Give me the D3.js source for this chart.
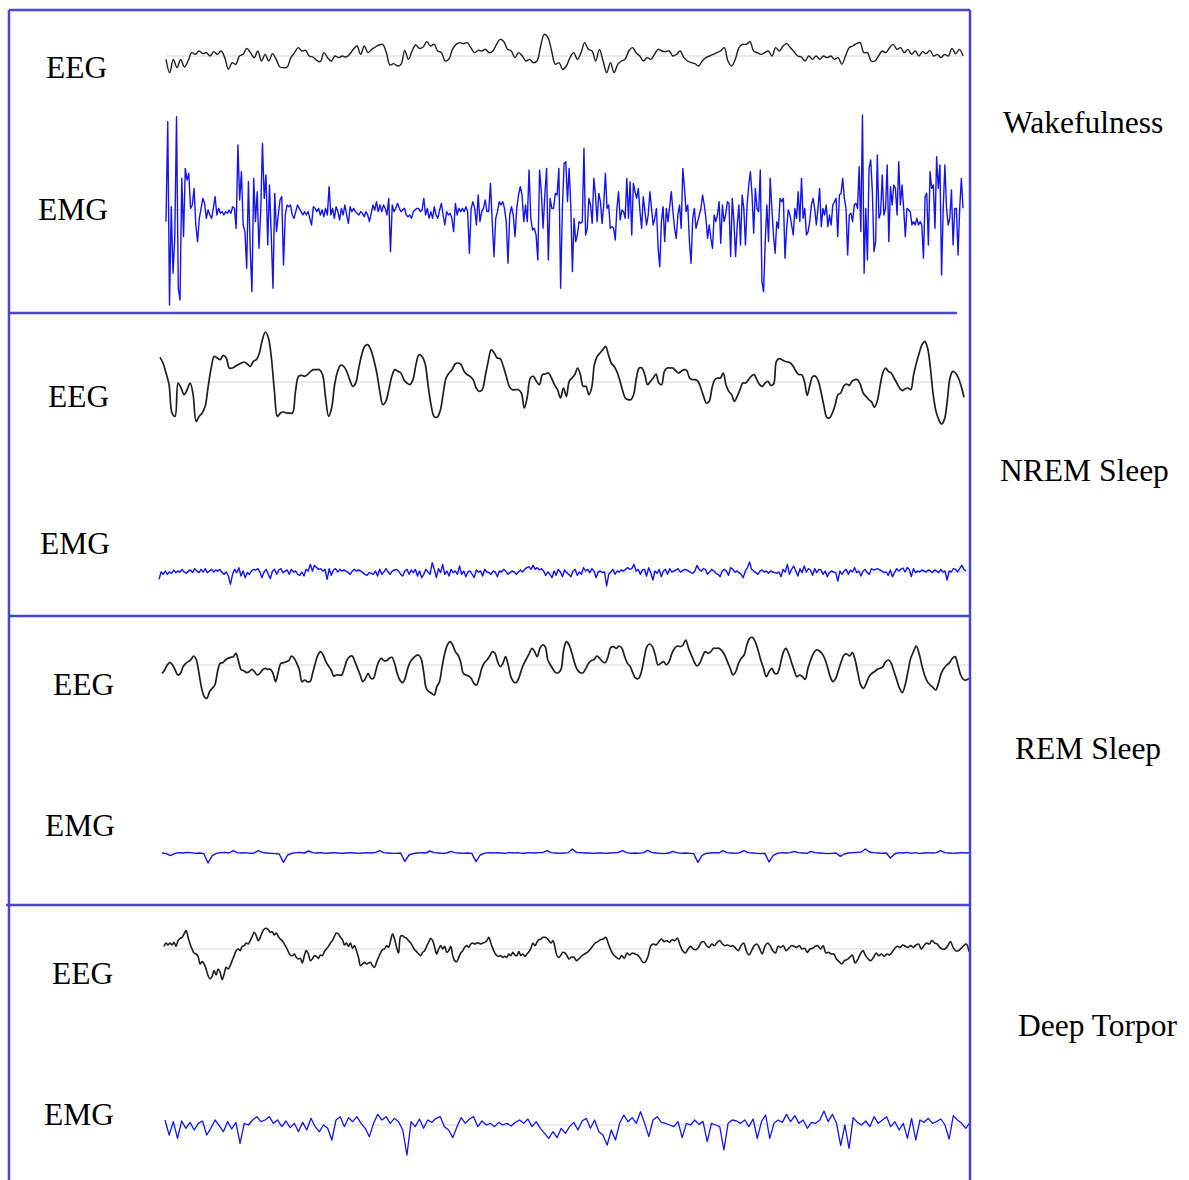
<!DOCTYPE html>
<html><head><meta charset="utf-8">
<script src="https://cdn.jsdelivr.net/npm/d3@7"></script>
<style>body{margin:0;background:#fff} svg{display:block}</style>
</head><body>
<script>
// ---------------- DATA (amplitudes, arbitrary units, positive = up) ----------------
const stages = ["Wakefulness", "NREM Sleep", "REM Sleep", "Deep Torpor"];
const channels = ["EEG", "EMG"];

const wakeEEG = [-10,-50,-10,-35,-10,-33,-15,10,5,15,7,10,0,13,5,15,-5,-40,-20,-25,0,5,23,10,-5,15,-15,5,-15,7,-10,-33,-35,-33,-5,10,25,15,17,0,-3,-13,-17,10,-5,-15,0,-5,0,-3,5,20,30,5,30,10,20,27,33,35,10,-27,-23,-30,-25,17,-10,15,33,23,27,43,30,35,15,10,-15,-10,20,35,40,37,40,25,10,17,15,20,10,15,35,50,43,20,15,-5,10,0,-15,-10,-20,-15,30,65,55,15,-25,-20,-40,-30,-5,10,-10,10,40,20,15,-15,20,-15,-50,-20,-50,-25,-15,-10,15,25,10,0,-15,-5,-10,5,20,15,13,15,0,5,15,-5,-15,-20,-23,-30,-15,-5,0,5,10,15,25,-15,-30,-10,25,35,35,43,15,10,5,10,15,0,25,15,30,37,25,13,0,-3,-15,0,-10,0,-10,0,-5,0,-10,-5,-25,0,25,30,37,40,10,10,-15,-15,0,15,10,25,35,20,25,10,20,5,15,0,13,7,17,0,5,-5,5,0,23,7,20,0];

const wakeEMG_a = [-35,265,-285,10,-190,-85,280,-235,-270,95,-80,125,90,110,5,15,65,-45,-95,-25,5,35,20,-25,0,-15,-25,5,40,-15,5,-10,-5,-15,-5,-10,0,-10,10,5,-55,195,30,115,-45,-65,-175,85,-115,-245,95,-35,55,-115,-5,200,35,105,-105,75,-75,-235,50,-65,-15,30,40,-165,-15,15,10,15,-15,-25,-5,15,5,-5,-15,-5,-15,-5,-25,-45,10,5,-5,5,-15,0,-20,5,-15,70,-15,5,-25,10,-5,-30,5,-15,15,-15,-40,10,-5,5,-5,-10,-15,-5,-10,-20,-5,-15,-35,-10,15,0,25,-5,15,-5,15,5,-15,35,-125,15,-5,5,20,5,-5,0,5,-15,-20,-15,-25,-5,0,5,5,-5,0,35,-15,5,-25,-5,-25,10,-15,-25,0,20,-15,-45,-5,-15,-10,-25,-65,20,-15,5,-5,5,-5,10,-5,-130,5,25,5,-45,45,-35,-5,5,30,-5,-5,80,-35,-140,-25,-5,25,15,25,5,-35,-160,-15,10,-15,-80,5,45,70,45,-35,15,-35,120,-25,-60,-55,-75,-150,120,55,-55,45,125,-150,35,5,5,50,45,125,-235,5,140];
const wakeEMG_b = [145,25,125,15,-185,-25,-95,-75,-35,-40,-35,185,-75,-55,35,15,-40,95,45,-35,50,25,-40,15,110,5,15,-55,-50,-55,-90,5,55,-30,0,-5,-25,95,-25,85,-75,80,55,35,65,-5,-55,40,-5,-45,-15,55,5,-45,-25,5,-115,-170,-35,10,-95,5,-35,10,55,-5,-55,-85,-15,15,-55,125,65,-5,15,-95,-160,-25,5,-55,-35,-15,5,45,15,-25,-85,-45,-85,-115,-15,-35,-15,25,-100,15,-35,-15,25,20,-140,35,-35,-140,-45,15,-105,45,5,-105,15,75,115,45,-70,65,5,-5,120,-215,-245,-95,15,-95,95,5,-75,-130,-35,-55,35,25,35,-145,-55,0,-15,-45,-75,5,-25,55,-35,95,-25,5,-75,-65,-35,15,35,5,-45,5,65,-50,5,-15,15,-50,-15,-45,15,25,35,-80,45,50,95,35,5,-135,-15,-10,-35,15,20,5,130,-65,285,-190,5,-150,125,150,55,-125,-95,165,-25,-10,105,-15,5,135,-95,70,15,75,65,-15,145,15,75,5,-80,5,0,-5,-45,-35,-45,-25,-45,-35,-45,-145,40,50,-105,115,65,75,-55,160,65,135,-195,5,135,5,-45,-25,60,-105,5,5,-135,5,95,5];

const nremEEG_a = [74,57,27,-8,-93,-103,-3,-18,-38,-23,-3,-38,-118,-103,-93,-73,-13,42,77,72,67,80,72,42,42,47,52,57,60,54,47,62,67,87,127,150,132,72,-28,-103,-93,-90,-93,-93,-93,-28,17,20,17,22,32,37,37,37,22,-48,-103,-78,-8,32,50,47,32,7,-13,-3,42,82,107,112,97,67,27,-28,-68,-58,-23,17,37,32,27,7,-3,-8,7,52,82,77,57,-8,-68,-103,-106,-88,-38,12,27,37,54,57,52,32,22,17,7,-18,-28,-23,17,62,97,87,72,70,47,17,-13,-23,-23,-23,-33,-78,-43,12,17,2,-8,22,24,27,12,-8,-23,-48,-18];
const nremEEG_b = [-43,2,12,22,42,22,-13,-13,-38,-18,52,77,87,97,107,82,57,47,32,7,-23,-48,-53,-53,-38,12,42,42,22,-8,2,12,24,-3,-8,32,42,42,42,34,27,32,37,34,12,7,7,2,-18,-43,-63,-58,-18,7,12,12,27,-8,-28,-38,-58,-43,-23,-3,-3,7,17,22,7,-8,-13,-3,2,-10,-6,62,70,67,62,60,57,47,32,22,22,2,-40,-8,17,17,2,-33,-73,-106,-108,-93,-68,-38,-33,-13,-6,-10,2,7,7,-8,-33,-43,-53,-60,-76,-58,-13,27,42,32,27,12,-3,-18,-26,-20,-18,-23,22,57,87,112,122,102,42,-38,-88,-113,-126,-113,-58,12,32,27,12,-13,-46];

const nremEMG = [-22,0,-7,3,-7,0,-4,6,-2,3,0,8,0,-4,3,6,-2,10,3,-2,8,0,10,-2,3,8,0,6,3,8,-2,-7,0,-12,-37,-7,8,-2,13,-12,3,-17,-2,-7,3,8,6,10,0,-17,0,8,-7,-20,3,8,-7,6,10,-2,3,6,-7,8,0,3,-7,-10,0,-12,8,3,23,3,20,13,8,10,3,8,-22,10,-10,6,10,0,8,3,6,3,-2,-7,3,8,3,6,3,-2,-7,-10,-2,-4,-7,3,-12,8,-7,0,10,0,-7,3,6,8,3,-7,-12,3,8,-7,6,-2,8,-12,3,-17,-7,8,0,-7,28,8,-17,10,-2,23,-7,3,-12,8,-2,3,-7,18,-7,3,-14,0,3,-7,-17,6,0,3,-12,8,0,-2,-7,3,0,-14,3,0,8,3,-7,-2,3,0,-7,0,6,0,8,13,16,8,20,8,13,6,10,3,-10,0,-7,-17,3,-10,8,0,-14,6,-2,-7,-14,3,8,-10,0,-7,13,3,8,-2,10,3,-17,0,3,-2,0,-42,-7,0,8,-7,3,0,6,3,8,13,8,10,23,3,8,-7,6,8,-12,13,-2,-24,3,-4,8,-14,3,8,-7,10,0,3,6,10,0,3,8,6,3,-2,-4,3,20,8,3,10,8,-7,0,8,3,-4,-7,-14,3,8,3,-10,13,8,0,3,-2,-7,-17,3,13,30,8,3,-2,-7,3,6,0,3,-4,3,0,-2,-4,0,-14,8,0,23,-7,8,18,3,-12,10,-2,18,0,10,6,-10,10,-2,8,6,-7,3,-14,-2,3,0,-2,-27,3,-7,3,8,-7,6,0,13,-2,3,-12,3,8,-2,-7,10,6,8,10,6,3,-2,0,-10,6,-14,-2,10,3,8,12,0,13,8,-14,10,-2,3,0,6,3,0,6,3,-2,6,3,-2,8,0,3,-24,3,0,10,8,0,10,20,8,3];

const remEEG_a = [-25,-15,0,8,0,-15,-30,-25,-5,5,10,17,27,15,-25,-70,-95,-100,-80,-70,-60,-20,5,7,15,20,23,25,35,10,-15,-17,-23,-20,-13,-20,-30,-25,-15,-10,-13,-13,-25,-50,-20,5,7,10,13,27,20,5,-15,-50,-45,-50,-50,-25,5,30,40,30,10,-3,-15,-33,-30,-30,-30,-10,15,25,27,10,-10,-30,-50,-40,-25,-40,-40,-15,10,20,13,13,20,23,5,-25,-45,-53,-40,-10,10,20,27,30,20,-20,-70,-80,-85,-90,-65,-50,-5,35,60,70,60,40,30,10,-25,-30,-33,-40,-55,-60,-40,-10,7,15,27,40,35,10,-5,5,25,0,-35,-50,-53,-40,-15,5,20,35,50,40,25,50,60,55,15,0,-13,-23,-23,-13,45];
const remEEG_b = [70,60,35,5,-15,-23,-23,-10,5,13,17,27,20,10,7,25,53,55,50,57,50,25,5,-5,-25,-40,-40,-20,20,55,63,55,30,0,5,10,0,10,35,50,57,55,60,75,50,30,10,-3,5,25,40,35,40,50,50,50,43,30,10,-10,-30,-20,5,20,30,60,80,83,70,45,15,-10,-35,-20,-10,-25,-25,0,35,50,35,10,-15,-35,-30,-35,-43,-10,15,35,45,43,35,20,-5,-35,-50,-40,-15,10,30,33,27,37,15,-25,-60,-70,-55,-35,-25,-20,-13,-10,-5,10,15,5,-20,-45,-70,-83,-60,-20,20,40,57,35,0,-30,-50,-60,-67,-75,-55,-25,-10,0,7,20,25,0,-30,-43,-45,-40];

const remEMG = [0,-2,-8,-2,1,0,2,1,-1,0,-2,-30,-8,-1,1,2,0,7,1,0,1,-1,0,7,2,0,-1,-2,-3,-28,-6,-1,1,2,0,6,1,0,1,-1,0,1,0,-1,0,1,0,-1,0,1,0,2,7,1,0,-1,-1,0,-25,-6,-2,0,1,0,6,1,0,-1,0,5,1,0,-1,0,-1,-26,-6,-1,1,0,1,0,-1,2,0,1,-1,0,1,0,1,2,7,1,0,-1,0,1,12,2,1,0,0,-1,0,0,-1,0,1,2,7,1,-1,0,-1,1,8,2,0,-1,-2,0,5,1,-1,0,-1,-2,-28,-7,-1,0,1,0,7,1,0,-1,1,7,1,0,-1,-2,-1,-27,-7,-1,1,0,1,5,1,0,-1,5,1,0,-1,-2,-1,0,-10,-3,0,1,2,3,12,3,1,0,-1,0,-15,-3,1,0,2,-1,1,-2,0,1,0,1,7,1,0,-1,0,1,0,1];

const torporEEG_a = [8,18,12,18,12,20,8,25,32,35,45,55,35,15,0,-12,-15,-22,-45,-38,-45,-60,-80,-90,-82,-65,-78,-60,-70,-92,-75,-55,-60,-50,-35,-20,-5,0,-5,8,10,18,15,25,38,50,40,25,35,50,60,62,58,50,52,42,48,38,30,25,15,5,-8,-18,-20,-15,-25,-30,-28,-42,-20,-5,-15,-35,-30,-20,-22,-28,-18,-20,-8,0,8,18,25,38,48,45,35,28,12,18,8,18,2,10,-5,-25,-50,-45,-40,-45,-42,-40,-50,-55,-40,-25,-12,-2,0,10,5,25,45,30,5,-12,38,40,35,32,25,18,8,-2,-8,-15,-20,-10,-5,8,20,32,25,5,-15,0,10,0,8,-10,-5,8,-20,-35,-38,-25,-12,-5,5,10,5,15,18,15,18,18,15,18,20,25,35,18,2,-12,-20,-22,-20,-25,-22,-25,-15,-20,-10,-18,-20,-8,-20,-15,-22,-15,-8,2,18,10,20,28,30,35,35,32,25,18,25,5,-20,-25,-18,-10,-12,-20,-30];
const torporEEG_b = [-25,-25,-35,-28,-20,-15,-10,-2,8,18,22,28,30,35,15,-5,-18,-25,-30,-20,-28,-12,-18,-12,-15,-18,-28,-40,-38,-20,10,15,12,22,30,22,25,20,28,25,32,12,-5,-12,0,8,0,-2,5,20,22,10,5,15,10,20,25,15,10,12,8,10,2,-5,10,18,-5,-18,-5,10,15,2,-15,8,18,10,-5,-12,8,5,10,-5,2,10,8,5,10,0,2,-10,0,2,8,10,0,10,-12,-10,-15,-15,-30,-38,-45,-35,-32,-25,-18,-42,-32,-15,-5,-20,-30,-35,-25,-12,-20,-15,-22,-15,-18,-10,2,8,5,12,8,5,10,5,12,15,0,10,18,15,25,18,15,5,0,0,10,22,5,-5,-5,2,10,15,-8];

const torporEMG = [15,-30,10,-40,12,-10,8,-15,5,12,-30,-10,15,-2,-20,10,-12,8,-55,5,0,15,25,10,15,25,5,15,-5,12,-8,5,-20,8,-15,20,-5,-20,0,-10,-45,15,25,-5,22,10,25,5,-10,-35,5,32,15,25,5,20,10,-15,-90,10,-5,18,-10,15,8,20,25,-5,-15,-38,-5,22,5,18,25,-5,12,0,5,-5,8,0,5,-3,8,15,5,18,-5,10,-10,-25,-40,-20,-38,-10,-25,-5,8,-15,12,20,-10,15,-20,-30,-60,-15,-45,5,30,10,22,5,40,5,-35,15,25,8,5,0,-5,10,-38,5,0,15,2,10,-50,5,0,-5,-75,5,15,12,5,15,-5,18,-40,10,30,-40,5,15,8,32,10,28,5,15,-10,8,5,15,42,10,32,5,-62,0,-70,22,8,0,12,-5,25,5,15,25,-5,10,-15,5,-40,20,-45,15,8,20,5,10,18,0,-42,28,15,5,-10,8];

// ---------------- LAYOUT ----------------
const W = 1189, H = 1180;
const frameColor = "#4646d2";
const emgColor = "#1414f0";
const eegColor = "#1e1e1e";
const labelFont = "'Liberation Serif','Times New Roman',serif";

const svg = d3.select("body").append("svg").attr("width", W).attr("height", H);

const traces = [
  {data: wakeEEG, parts: [wakeEEG.length], xs: [166, 963], base: 56, kind: "EEG", sw: 1.4},
  {data: wakeEMG_a.concat(wakeEMG_b), parts: [wakeEMG_a.length, wakeEMG_b.length], xs: [166, 565, 963], base: 210, kind: "EMG", sw: 1.4},
  {data: nremEEG_a.concat(nremEEG_b), parts: [nremEEG_a.length, nremEEG_b.length], xs: [160, 565, 964], base: 382, kind: "EEG", sw: 1.7},
  {data: nremEMG, parts: [nremEMG.length], xs: [159, 966], base: 572, kind: "EMG", sw: 1.4},
  {data: remEEG_a.concat(remEEG_b), parts: [remEEG_a.length, remEEG_b.length], xs: [162, 565, 969], base: 665, kind: "EEG", sw: 1.7},
  {data: remEMG, parts: [remEMG.length], xs: [162, 970], base: 853, kind: "EMG", sw: 1.4},
  {data: torporEEG_a.concat(torporEEG_b), parts: [torporEEG_a.length, torporEEG_b.length], xs: [164, 570, 969], base: 949, kind: "EEG", sw: 1.6},
  {data: torporEMG, parts: [torporEMG.length], xs: [165, 970], base: 1125, kind: "EMG", sw: 1.3}
];

traces.forEach(t => {
  const dom = [0];
  let acc = 0;
  t.parts.forEach((n, k) => {
    acc += n;
    dom.push(k === t.parts.length - 1 ? acc - 1 : acc - 0.5);
  });
  const x = d3.scaleLinear().domain(dom).range(t.xs);
  const y = d3.scaleLinear().domain([-150, 150]).range([t.base + 50, t.base - 50]);
  svg.append("line")
    .attr("x1", t.xs[0]).attr("x2", t.xs[t.xs.length - 1])
    .attr("y1", y(0)).attr("y2", y(0))
    .attr("stroke", "#e4e4e4").attr("stroke-width", 1.5);
  const line = d3.line()
    .x((d, i) => x(i)).y(d => y(d))
    .curve(t.kind === "EEG" ? d3.curveCatmullRom.alpha(0.5) : d3.curveLinear);
  svg.append("path").datum(t.data)
    .attr("d", line)
    .attr("fill", "none")
    .attr("stroke", t.kind === "EEG" ? eegColor : emgColor)
    .attr("stroke-width", t.sw)
    .attr("stroke-linejoin", "round");
});

// frame
const frame = [
  [9, 10, 970, 10],
  [9, 10, 9, 1180],
  [970, 10, 970, 1180],
  [9, 313, 957, 313],
  [9, 616, 970, 616],
  [6, 905, 970, 905]
];
svg.selectAll("line.frame").data(frame).enter().append("line")
  .attr("class", "frame")
  .attr("x1", d => d[0]).attr("y1", d => d[1])
  .attr("x2", d => d[2]).attr("y2", d => d[3])
  .attr("stroke", frameColor).attr("stroke-width", 2.5);

const chanLabels = [
  {t: channels[0], x: 46, y: 67}, {t: channels[1], x: 38, y: 209},
  {t: channels[0], x: 48, y: 396}, {t: channels[1], x: 40, y: 543},
  {t: channels[0], x: 53, y: 684}, {t: channels[1], x: 45, y: 825},
  {t: channels[0], x: 52, y: 973}, {t: channels[1], x: 44, y: 1114}
];
svg.selectAll("text.chan").data(chanLabels).enter().append("text")
  .attr("class", "chan")
  .attr("x", d => d.x).attr("y", d => d.y)
  .attr("dominant-baseline", "central")
  .attr("font-family", labelFont).attr("font-size", 31.5).attr("fill", "#000")
  .text(d => d.t);

const stagePos = [[1003, 122], [1000, 470], [1015, 748], [1018, 1025]];
svg.selectAll("text.stage").data(stages).enter().append("text")
  .attr("class", "stage")
  .attr("x", (d, i) => stagePos[i][0]).attr("y", (d, i) => stagePos[i][1])
  .attr("dominant-baseline", "central")
  .attr("font-family", labelFont).attr("font-size", 31.5).attr("fill", "#000")
  .text(d => d);
</script>
</body></html>
